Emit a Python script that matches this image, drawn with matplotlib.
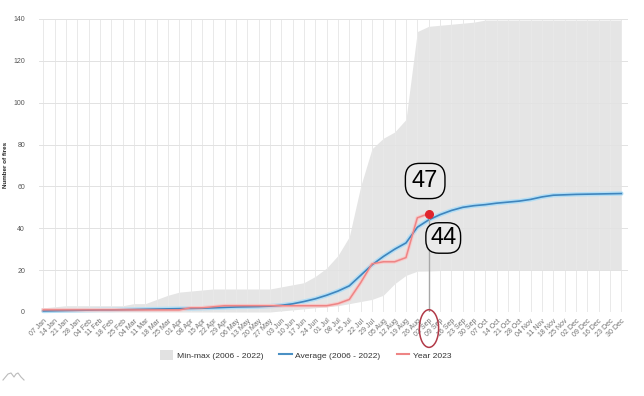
import numpy as np
import matplotlib
matplotlib.use("Agg")
import matplotlib.pyplot as plt
from matplotlib.patches import Ellipse, Patch
from matplotlib.lines import Line2D

plt.rcParams['font.family'] = ['Liberation Sans Narrow', 'Liberation Sans', 'DejaVu Sans']

# weekly labels (2023)
weeks = ["07 Jan", "14 Jan", "21 Jan", "28 Jan", "04 Feb", "11 Feb", "18 Feb", "25 Feb",
         "04 Mar", "11 Mar", "18 Mar", "25 Mar", "01 Apr", "08 Apr", "15 Apr", "22 Apr",
         "29 Apr", "06 May", "13 May", "20 May", "27 May", "03 Jun", "10 Jun", "17 Jun",
         "24 Jun", "01 Jul", "08 Jul", "15 Jul", "22 Jul", "29 Jul", "05 Aug", "12 Aug",
         "19 Aug", "26 Aug", "02 Sep", "09 Sep", "16 Sep", "23 Sep", "30 Sep", "07 Oct",
         "14 Oct", "21 Oct", "28 Oct", "04 Nov", "11 Nov", "18 Nov", "25 Nov", "02 Dec",
         "09 Dec", "16 Dec", "23 Dec", "30 Dec"]

# min-max band 2006-2022
band_max = [2, 2.5, 3, 3, 3, 3, 3, 3, 4, 4, 6, 8, 9.5, 10, 10.5, 11, 11, 11, 11, 11, 11,
            12, 13, 14, 17, 21, 27, 36, 60, 78, 83, 86, 92, 134, 136.5, 137, 137.5, 138,
            138.5, 139.5, 139.5, 139.5, 139.5, 139.5, 139.5, 139.5, 139.5, 139.5, 139.5,
            139.5, 139.5, 139.5]
band_min = [0] * 21 + [0.5, 1, 1.5, 2, 2.5, 3, 4, 5, 6, 8, 13.5, 17.5, 19.5, 19.6, 19.8] + [20.2] * 16

# average 2006-2022
average = [0.5, 0.6, 0.7, 0.8, 0.9, 1.0, 1.0, 1.1, 1.2, 1.3, 1.4, 1.5, 1.6, 1.7, 1.8, 2.0,
           2.2, 2.4, 2.5, 2.6, 2.8, 3.2, 3.9, 5.0, 6.3, 8.0, 10.0, 12.5, 17.5, 22.5, 26.5,
           30.0, 33.0, 40.5, 44.0, 46.5, 48.5, 50.0, 50.8, 51.3, 52.0, 52.5, 53.0, 53.8,
           55.0, 55.8, 56.0, 56.2, 56.3, 56.4, 56.5, 56.6]

# year 2023 (up to 02 Sep)
year_2023 = [1, 1, 1, 1, 1, 1, 1, 1, 1, 1, 1, 1, 1, 2, 2, 2.5, 3, 3, 3, 3, 3, 3, 3, 3, 3,
             3, 4, 6, 14, 23, 24, 24, 26, 45, 47]

highlight = 34  # 02 Sep

x = np.arange(len(weeks))
x23 = np.arange(len(year_2023))

fig = plt.figure(figsize=(6.44, 3.96), dpi=100)
ax = fig.add_axes([39 / 644, 84 / 396, 589 / 644, 293 / 396])

ax.fill_between(x, band_min, band_max, color='#e5e5e5', lw=0, zorder=1)

for v in x:
    ax.axvline(v, color='#e9e9e9', lw=0.7, zorder=2)
for h in range(0, 141, 20):
    ax.axhline(h, color='#e2e2e2', lw=0.7, zorder=2)

ax.plot(x, average, color='#b3def5', lw=3.2, zorder=3, solid_capstyle='round', clip_on=False)
ax.plot(x, average, color='#3f85bd', lw=1.2, zorder=4, clip_on=False)
ax.plot(x23, year_2023, color='#f7caca', lw=2.6, zorder=3, clip_on=False)
ax.plot(x23, year_2023, color='#ee8585', lw=1.1, zorder=4, clip_on=False)

# highlight of the last week
ax.plot([highlight, highlight], [0, year_2023[highlight]], color='#a8a8a8', lw=1.0, zorder=5)
ax.plot(highlight, year_2023[highlight], 'o', color='#e0242c', ms=5.5, zorder=6)
bbox = dict(boxstyle='round,pad=0.28,rounding_size=0.6', fc='#eaeaea', ec='black', lw=1.0)
ax.annotate(str(year_2023[highlight]), xy=(highlight, year_2023[highlight]),
            xytext=(-2.5, 23.5), textcoords='offset points', ha='center', va='center',
            fontsize=17, bbox=bbox, zorder=7)
bbox2 = dict(boxstyle='round,pad=0.18,rounding_size=0.55', fc='#eaeaea', ec='black', lw=1.0)
ax.annotate(str(int(round(average[highlight]))), xy=(highlight, average[highlight]),
            xytext=(10.5, -13), textcoords='offset points', ha='center', va='center',
            fontsize=17, bbox=bbox2, zorder=7)
ax.add_patch(Ellipse((highlight + 0.03, -7.9), 1.7, 18, fill=False, ec='#b23a48',
                     lw=1.1, clip_on=False, zorder=7))

ax.set_xlim(-0.38, 51.59)
ax.set_ylim(0, 140)
ax.set_xticks(x)
ax.set_xticklabels(weeks, rotation=45, ha='right', rotation_mode='anchor',
                   fontsize=5, color='#707070')
ax.set_yticks(range(0, 141, 20))
ax.set_yticklabels([str(v) for v in range(0, 141, 20)], fontsize=5, color='#555555')
ax.tick_params(axis='both', length=0)
ax.tick_params(axis='x', pad=4)
ax.tick_params(axis='y', pad=10)
for s in ax.spines.values():
    s.set_visible(False)

fig.text(6 / 644, 1 - 165 / 396, "Number of fires", rotation=90, fontsize=4.5,
         fontweight='bold', ha='center', va='center', color='#222222')

handles = [Patch(fc='#e2e2e2', ec='none'),
           Line2D([], [], color='#4a90c4', lw=1.5),
           Line2D([], [], color='#ee8585', lw=1.5)]
fig.legend(handles, ["Min-max (2006 - 2022)", "Average (2006 - 2022)", "Year 2023"],
           loc='center', bbox_to_anchor=(0.475, 1 - 355 / 396), ncol=3, frameon=False,
           fontsize=6.1, handlelength=1.5, handleheight=1.5, columnspacing=1.9,
           handletextpad=0.4, labelcolor='#333333')

# small logo bottom-left
lx = np.array([3, 8, 11, 14, 16, 18, 21, 24])
ly = np.array([380, 374, 373, 377, 374, 373, 377, 380])
fig.add_artist(Line2D(lx / 644, 1 - ly / 396, color='#bbbbbb', lw=0.8))

fig.savefig("out.png", dpi=100, facecolor='white')
